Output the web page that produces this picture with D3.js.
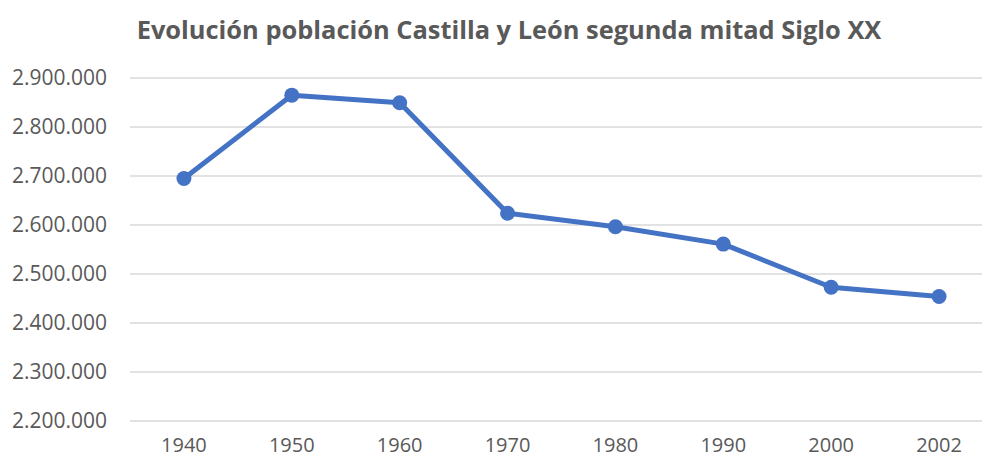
<!DOCTYPE html>
<html><head><meta charset="utf-8">
<script src="https://cdn.jsdelivr.net/npm/d3@7"></script>
<style>html,body{margin:0;padding:0;background:#fff;} svg{display:block;}</style>
</head><body>
<svg id="chart" width="982" height="461"></svg>
<script>
const title = "Evolución población Castilla y León segunda mitad Siglo XX";
const years = ["1940","1950","1960","1970","1980","1990","2000","2002"];
const population = [2695000, 2865000, 2849500, 2624000, 2596500, 2561000, 2473000, 2454000];
const yTicks = [2200000, 2300000, 2400000, 2500000, 2600000, 2700000, 2800000, 2900000];

const svg = d3.select("#chart");
const W = 982, H = 461;
const m = {left: 130, right: -11, top: 78, bottom: 40};
const fontLabel = "'Open Sans', 'Noto Sans', sans-serif";

const x = d3.scaleBand().domain(years).range([m.left, W - m.right]);
const y = d3.scaleLinear().domain([2200000, 2900000]).range([H - m.bottom, m.top]);

const fmt = v => d3.format(",")(v).replace(/,/g, ".");

// gridlines
svg.append("g").selectAll("line").data(yTicks).join("line")
  .attr("x1", m.left).attr("x2", W - m.right)
  .attr("y1", d => y(d)).attr("y2", d => y(d))
  .attr("stroke", "#d9d9d9").attr("stroke-width", 1.3);

// y axis labels
const yAxis = d3.axisLeft(y).tickValues(yTicks).tickFormat(fmt).tickSize(0).tickPadding(23);
const gy = svg.append("g").attr("transform", `translate(${m.left},0)`).call(yAxis);
gy.select(".domain").remove();
gy.selectAll("text").attr("fill", "#595959").style("font-family", fontLabel).style("font-size", "21px");

// x axis labels
const xAxis = d3.axisBottom(x).tickSize(0).tickPadding(17);
const gx = svg.append("g").attr("transform", `translate(0,${H - m.bottom})`).call(xAxis);
gx.select(".domain").remove();
gx.selectAll("text").attr("fill", "#595959").style("font-family", fontLabel).style("font-size", "20px");

// line
const line = d3.line().x((d, i) => x(years[i]) + x.bandwidth() / 2).y(d => y(d));
svg.append("path").datum(population).attr("d", line)
  .attr("fill", "none").attr("stroke", "#4472c4").attr("stroke-width", 5)
  .attr("stroke-linejoin", "round").attr("stroke-linecap", "round");

svg.append("g").selectAll("circle").data(population).join("circle")
  .attr("cx", (d, i) => x(years[i]) + x.bandwidth() / 2)
  .attr("cy", d => y(d)).attr("r", 7.5).attr("fill", "#4472c4");

// title
const t = svg.append("text").attr("x", 509).attr("y", 39).attr("text-anchor", "middle")
  .attr("fill", "#595959").style("font-family", fontLabel).style("font-weight", "bold")
  .style("font-size", "24px").text(title);
const len = t.node().getComputedTextLength();
t.style("font-size", (24 * 745 / len) + "px");
</script>
</body></html>
